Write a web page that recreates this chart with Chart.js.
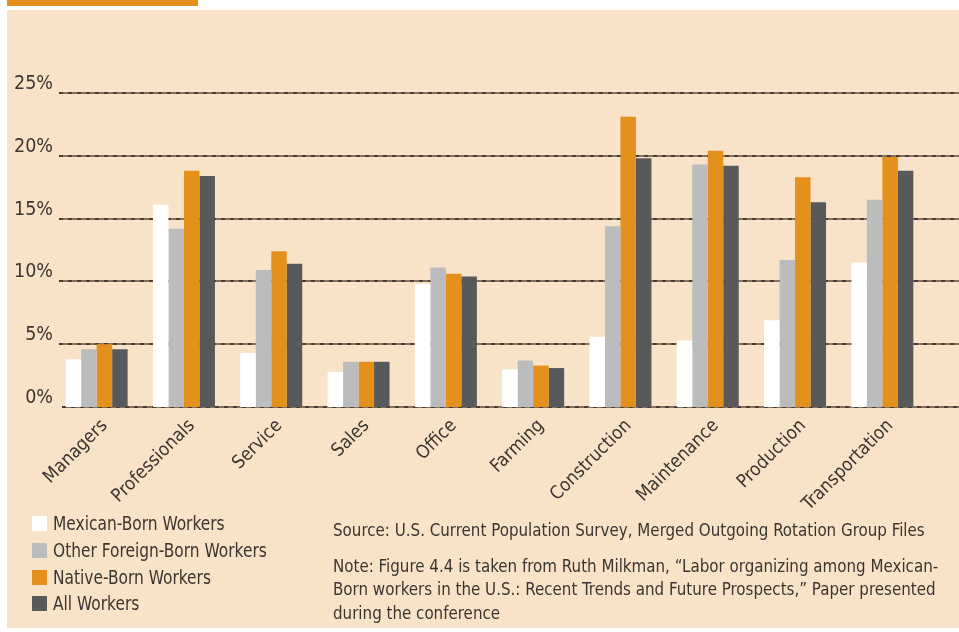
<!DOCTYPE html>
<html>
<head>
<meta charset="utf-8">
<script src="https://cdn.jsdelivr.net/npm/chart.js@4"></script>
<style>
  body { margin: 0; background: #ffffff; width: 959px; height: 632px; overflow: hidden; position: relative;
         font-family: "Liberation Sans Narrow", "DejaVu Sans Condensed", sans-serif; color: #3b3532; }
  #topbar { position: absolute; left: 7px; top: 0; width: 191px; height: 6px; background: #e4901c; }
  #panel { position: absolute; left: 7px; top: 10px; right: 0; height: 618px; background: #f9e3c8; }
  #wrap { position: absolute; left: 0; top: 0; width: 959px; height: 632px; }
  #legend { position: absolute; left: 32px; top: 511px; font-size: 19.5px; }
  #legend div { height: 26.8px; line-height: 26.8px; white-space: nowrap; }
  #legend span { display: inline-block; width: 15px; height: 15px; margin-right: 6px; vertical-align: -1px; }
  #legend b { font-weight: normal; display: inline-block; transform: scaleX(0.88); transform-origin: left center; }
  #notes { position: absolute; left: 333px; top: 519px; font-size: 16.8px; line-height: 23.5px; white-space: nowrap; }
  #notes p { margin: 0 0 12px 0; }
</style>
</head>
<body>
<div id="topbar"></div>
<div id="panel"></div>
<div id="wrap"><canvas id="occ_chart" width="959" height="632"></canvas></div>
<div id="legend"></div>
<div id="notes">
  <p>Source: U.S. Current Population Survey, Merged Outgoing Rotation Group Files</p>
  <p>Note: Figure 4.4 is taken from Ruth Milkman, “Labor organizing among Mexican-<br>Born workers in the U.S.: Recent Trends and Future Prospects,” Paper presented<br>during the conference</p>
</div>
<script>
// Occupation categories along the x axis
const categories = ['Managers', 'Professionals', 'Service', 'Sales', 'Office',
    'Farming', 'Construction', 'Maintenance', 'Production', 'Transportation'];

// Share of each group's workers by occupation (%)
const mexican_born = [3.8, 16.1, 4.3, 2.8, 9.8, 3.0, 5.6, 5.3, 6.9, 11.5];
const other_foreign_born = [4.6, 14.2, 10.9, 3.6, 11.1, 3.7, 14.4, 19.3, 11.7, 16.5];
const native_born = [5.0, 18.8, 12.4, 3.6, 10.6, 3.3, 23.1, 20.4, 18.3, 19.9];
const all_workers = [4.6, 18.4, 11.4, 3.6, 10.4, 3.1, 19.8, 19.2, 16.3, 18.8];

// Y axis tick values
const y_ticks = [0, 5, 10, 15, 20, 25];

const series_names = ['Mexican-Born Workers', 'Other Foreign-Born Workers', 'Native-Born Workers', 'All Workers'];
const series_colors = ['#ffffff', '#bbbcbe', '#e4901c', '#58595b'];
const series_values = [mexican_born, other_foreign_born, native_born, all_workers];

const font_family = '"Liberation Sans Narrow", "DejaVu Sans Condensed", sans-serif';

// Dashed gridlines that run past the plot area, as in the original
const gridPlugin = {
    id: 'wideGrid',
    beforeDatasetsDraw(chart) {
        const ctx = chart.ctx;
        const y = chart.scales.y;
        ctx.save();
        y_ticks.forEach((v) => {
            const py = Math.round(y.getPixelForValue(v));
            const x0 = v === 0 ? 62 : 59;
            ctx.lineWidth = 2;
            ctx.strokeStyle = '#85725f';
            ctx.setLineDash([]);
            ctx.beginPath();
            ctx.moveTo(x0, py);
            ctx.lineTo(959, py);
            ctx.stroke();
            ctx.strokeStyle = '#4a3c33';
            ctx.setLineDash([4, 5]);
            ctx.beginPath();
            ctx.moveTo(x0, py);
            ctx.lineTo(959, py);
            ctx.stroke();
        });
        ctx.restore();
    }
};

const occ_data = {
    labels: categories,
    datasets: series_names.map((name, i) => ({
        label: name,
        data: series_values[i],
        backgroundColor: series_colors[i],
        borderWidth: 0,
        categoryPercentage: 0.71,
        barPercentage: 1.0,
    }))
};

const occ_config = {
    type: 'bar',
    data: occ_data,
    plugins: [gridPlugin],
    options: {
        responsive: false,
        animation: false,
        layout: {
            padding: {top: 93, right: 33, bottom: 0, left: 0}
        },
        plugins: {
            legend: {display: false},
            tooltip: {enabled: false}
        },
        scales: {
            x: {
                grid: {display: false, drawTicks: false},
                border: {display: false},
                ticks: {
                    color: '#3b3532',
                    font: {family: font_family, size: 18.5},
                    maxRotation: 45,
                    minRotation: 45,
                    padding: 8,
                    labelOffset: 8,
                    autoSkip: false
                },
                afterFit: (scale) => { scale.height = 225; }
            },
            y: {
                min: 0,
                max: 25,
                grid: {display: false, drawTicks: false},
                border: {display: false},
                afterBuildTicks: (scale) => { scale.ticks = y_ticks.map((v) => ({value: v})); },
                afterFit: (scale) => { scale.width = 53; },
                ticks: {
                    color: '#3b3532',
                    font: {family: font_family, size: 19.5},
                    padding: 0,
                    labelOffset: -9,
                    callback: (v) => v + '%'
                }
            }
        }
    }
};

const occChart = new Chart(document.getElementById('occ_chart'), occ_config);

// Legend, stacked down the bottom left
const legend = document.getElementById('legend');
series_names.forEach((name, i) => {
    const row = document.createElement('div');
    row.innerHTML = '<span style="background:' + series_colors[i] + '"></span><b>' + name + '</b>';
    legend.appendChild(row);
});
</script>
</body>
</html>
